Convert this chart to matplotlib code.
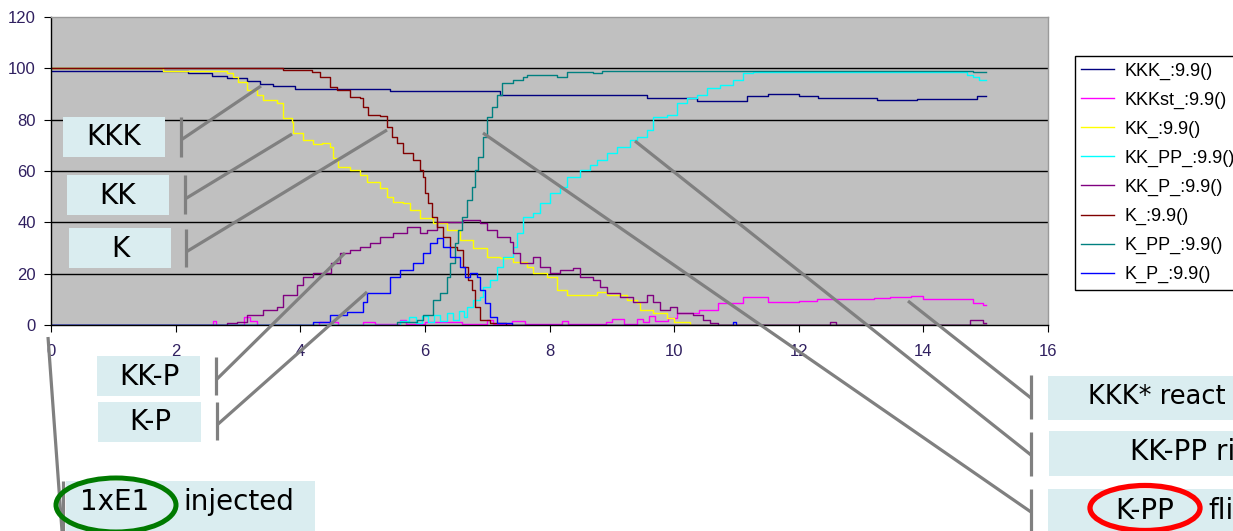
import matplotlib
matplotlib.use('Agg')
import matplotlib.pyplot as plt
from matplotlib.lines import Line2D
from matplotlib.patches import Rectangle, Ellipse

W, H = 1233, 531

# --- data (time, molecule count), drawn as steps ---
kkk_t = [0, 2.2, 2.58, 2.82, 3.14, 3.35, 3.56, 3.92, 5.44, 7.2, 9.57, 10.37, 11.17, 11.5, 12.0, 12.31, 13.26, 13.9, 14.86, 15.0]
kkk_v = [98.9, 98.2, 97.2, 96.2, 95.0, 94.0, 93.0, 91.9, 91.2, 89.6, 88.3, 87.3, 89.3, 89.9, 89.3, 88.3, 87.6, 88.2, 89.3, 89.3]

kkkst_t = [0, 2.6, 2.65, 3.1, 3.2, 3.3, 4.3, 4.6, 5.0, 5.2, 5.6, 5.7, 6.0, 6.6, 7.0, 7.1, 7.4, 7.6, 8.2, 8.3, 8.9, 9.0,
           9.2, 9.4, 9.5, 9.6, 9.7, 9.9, 10.05, 10.4, 10.7, 11.1, 11.5, 12.0, 12.3, 12.9, 13.2, 13.47, 13.8, 14.0, 14.5, 14.8, 14.95, 15.0]
kkkst_v = [0, 1.5, 0, 3.0, 1.5, 0, 1.0, 0, 1.2, 0.3, 2.0, 0.5, 1.0, 0.5, 2.0, 0.5, 1.5, 0.5, 1.5, 0.5, 1.0, 2.5,
           0.5, 2.5, 1.0, 3.5, 1.5, 2.8, 4.6, 5.8, 8.6, 11.0, 9.0, 9.3, 10.2, 10.0, 10.5, 11.0, 11.3, 10.1, 10.1, 8.7, 7.8, 7.8]

kk_t = [0, 1.8, 2.82, 2.92, 3.0, 3.14, 3.3, 3.4, 3.62, 3.72, 3.86, 3.89, 4.05, 4.21, 4.35, 4.48, 4.53, 4.6, 4.8, 4.96,
        5.07, 5.28, 5.39, 5.49, 5.65, 5.76, 5.92, 6.13, 6.36, 6.56, 6.77, 7.0, 7.2, 7.42, 7.64, 7.74, 7.96, 8.12, 8.28,
        8.76, 8.92, 9.25, 9.4, 9.45, 9.66, 9.88, 10.0, 10.25, 15.0]
kk_v = [100, 98.9, 98.1, 96.6, 94.7, 91.5, 89.6, 87.6, 86.5, 80.6, 79.0, 74.8, 72.0, 70.5, 70.9, 69.4, 65.0, 61.5, 60.4, 58.4,
        55.7, 53.4, 49.9, 47.9, 47.5, 44.8, 41.7, 39.7, 37.0, 33.1, 30.0, 26.5, 26.1, 24.5, 22.6, 20.3, 18.7, 13.6, 11.7,
        12.9, 11.7, 9.7, 8.6, 5.8, 4.7, 2.7, 1.2, 0, 0]

kkpp_t = [0, 5.6, 5.75, 5.85, 5.95, 6.05, 6.15, 6.25, 6.35, 6.45, 6.55, 6.62, 6.68, 6.77, 6.89, 6.94, 7.05, 7.16, 7.26,
          7.42, 7.48, 7.58, 7.74, 7.85, 8.01, 8.17, 8.28, 8.49, 8.65, 8.76, 8.92, 9.08, 9.29, 9.4, 9.57, 9.66, 9.88,
          10.05, 10.2, 10.37, 10.53, 10.74, 10.95, 11.1, 11.27, 14.6, 14.7, 14.8, 14.9, 15.0]
kkpp_v = [0, 1.5, 3.0, 0.8, 3.5, 1.2, 4.0, 1.5, 4.5, 2.0, 5.5, 3.0, 7.0, 9.7, 10.9, 14.8, 17.5, 22.6, 26.5,
          30.4, 35.8, 42.1, 43.6, 47.5, 51.4, 53.8, 57.7, 60.4, 62.3, 64.3, 67.0, 69.4, 72.0, 73.2, 76.0, 81.0, 81.8,
          86.5, 88.4, 89.6, 92.3, 93.5, 95.4, 98.2, 98.6, 98.6, 97.4, 96.5, 95.4, 95.4]

kkp_t = [0, 2.82, 2.98, 3.14, 3.4, 3.62, 3.72, 3.95, 4.05, 4.21, 4.5, 4.64, 4.8, 4.96, 5.12, 5.28, 5.49, 5.71, 5.87,
         5.92, 6.03, 6.19, 6.4, 6.61, 6.89, 7.0, 7.16, 7.37, 7.42, 7.53, 7.74, 7.85, 8.01, 8.17, 8.38, 8.49, 8.7, 8.81,
         8.92, 9.13, 9.34, 9.57, 9.66, 9.78, 9.94, 10.05, 10.3, 10.47, 10.58, 10.7, 12.5, 12.6, 14.75, 14.95, 15.0]
kkp_v = [0, 0.8, 1.2, 3.9, 5.8, 7.0, 11.7, 15.6, 18.7, 20.3, 24.0, 28.0, 29.2, 30.4, 31.9, 34.3, 35.8, 38.2, 38.2,
         35.8, 37.0, 40.1, 40.1, 40.9, 39.7, 37.0, 34.3, 32.3, 28.0, 24.1, 26.5, 22.6, 20.3, 21.4, 22.2, 18.7, 17.5, 14.8,
         12.5, 10.9, 9.0, 11.7, 9.0, 5.8, 7.0, 4.7, 3.9, 1.9, 0.8, 0, 1.0, 0, 1.9, 0.8, 0.8]

k_t = [0, 3.72, 4.19, 4.32, 4.48, 4.59, 4.8, 4.96, 5.01, 5.09, 5.28, 5.39, 5.47, 5.55, 5.65, 5.81, 5.92, 5.97, 6.0,
       6.05, 6.11, 6.19, 6.29, 6.4, 6.51, 6.61, 6.69, 6.76, 6.81, 6.89, 7.05, 7.3, 15.0]
k_v = [100, 99.3, 98.6, 96.6, 92.7, 91.5, 88.8, 88.4, 84.9, 81.8, 81.4, 77.1, 73.2, 70.9, 67.0, 64.3, 60.4, 57.7, 51.4,
       47.5, 42.1, 38.2, 34.3, 30.4, 29.2, 22.6, 17.5, 13.6, 7.0, 1.9, 0.8, 0, 0]

kpp_t = [0, 5.55, 5.87, 5.97, 6.13, 6.24, 6.36, 6.4, 6.48, 6.53, 6.6, 6.68, 6.76, 6.8, 6.85, 6.93, 7.0, 7.08, 7.16,
         7.24, 7.42, 7.58, 7.64, 8.12, 8.28, 8.7, 8.85, 10.0, 11.6, 12.0, 14.8, 15.0]
kpp_v = [0, 1.2, 1.9, 3.9, 9.7, 12.5, 18.7, 24.1, 31.9, 37.0, 42.1, 48.7, 53.8, 60.4, 65.4, 73.2, 81.0, 84.9, 89.6,
         94.3, 95.4, 96.6, 97.4, 96.6, 98.6, 98.2, 98.8, 99.0, 98.8, 99.0, 98.5, 98.5]

kp_t = [0, 4.2, 4.48, 4.75, 5.0, 5.07, 5.44, 5.6, 5.81, 5.97, 6.08, 6.19, 6.29, 6.4, 6.56, 6.64, 6.72, 6.84, 6.89,
        6.97, 7.05, 7.16, 7.4, 10.95, 11.0, 15.0]
kp_v = [0, 1.2, 3.9, 5.0, 9.0, 12.5, 18.7, 21.4, 24.1, 28.0, 31.9, 33.9, 30.4, 26.5, 22.6, 18.7, 20.3, 18.7, 13.6,
        8.6, 3.1, 0.8, 0, 1.0, 0, 0]

labels = ['KKK_:9.9()', 'KKKst_:9.9()', 'KK_:9.9()', 'KK_PP_:9.9()', 'KK_P_:9.9()', 'K_:9.9()', 'K_PP_:9.9()', 'K_P_:9.9()']
colors = ['#000080', '#FF00FF', '#FFFF00', '#00FFFF', '#800080', '#800000', '#008080', '#0000FF']
times = [kkk_t, kkkst_t, kk_t, kkpp_t, kkp_t, k_t, kpp_t, kp_t]
values = [kkk_v, kkkst_v, kk_v, kkpp_v, kkp_v, k_v, kpp_v, kp_v]

x_ticks = [0, 2, 4, 6, 8, 10, 12, 14, 16]
y_ticks = [0, 20, 40, 60, 80, 100, 120]

# --- figure ---
fig = plt.figure(figsize=(W / 100, H / 100), dpi=100)


def fx(px):
    return px / W


def fy(py):
    return 1 - py / H


ax = fig.add_axes([fx(51), fy(325), (1048 - 51) / W, (325 - 17) / H])
ax.set_facecolor('#C0C0C0')

for t, v, c, lab in zip(times, values, colors, labels):
    ax.plot(t, v, drawstyle='steps-post', color=c, lw=1.0, label=lab)

ax.set_xlim(0, 16)
ax.set_ylim(0, 120)
ax.set_xticks(x_ticks)
ax.set_yticks(y_ticks)
for yv in y_ticks[1:-1]:
    ax.axhline(yv, color='black', lw=1.0, zorder=0.5)

for s in ['left', 'bottom']:
    ax.spines[s].set_color('black')
    ax.spines[s].set_linewidth(1.0)
for s in ['top', 'right']:
    ax.spines[s].set_color('#9a9a9a')
    ax.spines[s].set_linewidth(1.0)

ax.tick_params(axis='x', direction='out', length=5, pad=9, labelsize=12, colors='black', labelcolor='#302060')
ax.tick_params(axis='y', direction='out', length=5, pad=6, labelsize=12, colors='black', labelcolor='#302060')
for lab in ax.get_xticklabels() + ax.get_yticklabels():
    lab.set_family('Liberation Sans')

leg = fig.legend(loc='upper left', bbox_to_anchor=(fx(1075), fy(56)), bbox_transform=fig.transFigure,
                 borderaxespad=0, fancybox=False, edgecolor='black', framealpha=1,
                 prop={'family': 'Liberation Sans', 'size': 13}, handlelength=1.8, handletextpad=0.6,
                 borderpad=0.35, labelspacing=0.66)
leg.get_frame().set_linewidth(1.0)

# --- callout overlay (pixel coords of the slide) ---
BOX = '#DAEDF0'
GRAY = '#808080'


def box(x0, y0, x1, y1):
    fig.add_artist(Rectangle((fx(x0), fy(y1)), (x1 - x0) / W, (y1 - y0) / H,
                             transform=fig.transFigure, facecolor=BOX, edgecolor='none', zorder=3))


def gline(pts):
    fig.add_artist(Line2D([fx(p[0]) for p in pts], [fy(p[1]) for p in pts], transform=fig.transFigure,
                          color=GRAY, lw=2.3, solid_capstyle='butt', zorder=4))


def label(x, y, s, ha='center', size=20):
    fig.text(fx(x), fy(y), s, ha=ha, va='center', fontsize=size, color='black', zorder=5)


def callout(bx, btop, bbot, mid, target):
    gline([(bx, btop), (bx, bbot)])
    gline([(bx, mid), target])


# left-side labels
box(63, 117, 165, 157); label(114, 137, 'KKK')
callout(181, 117, 157, 140, (261, 86))
box(67, 175, 169, 215); label(118, 196, 'KK')
callout(185, 175, 214, 199, (292, 134))
box(69, 228, 171, 268); label(120, 249, 'K')
callout(186, 229, 267, 252, (387, 130))
box(97, 356, 200, 396); label(149, 377, 'KK-P')
callout(216, 357, 395, 380, (345, 253))
box(98, 402, 201, 442); label(150, 422, 'K-P')
callout(217, 402, 440, 425, (367, 292))

box(66, 481, 315, 531)
label(115, 502, '1xE1')
label(183, 502, 'injected', ha='left')
gline([(63, 481), (63, 531)])
gline([(48, 337), (62, 531)])
fig.add_artist(Ellipse((fx(116), fy(505)), 120 / W, 54 / H, transform=fig.transFigure,
                       facecolor='none', edgecolor='#007A00', lw=3.6, zorder=6))

# right-side labels
box(1048, 376, 1233, 420); label(1088, 397, 'KKK* react', ha='left', size=18.5)
callout(1031, 375, 419, 398, (908, 301))
box(1049, 431, 1233, 476); label(1130, 452, 'KK-PP ri', ha='left')
callout(1031, 432, 476, 455, (635, 141))
box(1048, 489, 1233, 531); label(1145, 511, 'K-PP'); label(1208, 511, 'fli', ha='left')
callout(1031, 489, 531, 512, (483, 133))
fig.add_artist(Ellipse((fx(1145), fy(508)), 110 / W, 45 / H, transform=fig.transFigure,
                       facecolor='none', edgecolor='#FF0000', lw=3.8, zorder=6))

fig.savefig('out.png', dpi=100)
